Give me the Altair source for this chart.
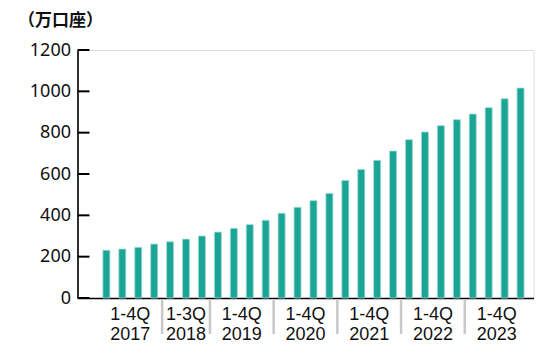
import altair as alt
import pandas as pd

# ---- data ----
unit_label = "（万口座）"
years = ["2017", "2018", "2019", "2020", "2021", "2022", "2023"]
periods = ["1-4Q", "1-3Q", "1-4Q", "1-4Q", "1-4Q", "1-4Q", "1-4Q"]
bars_per_group = [4, 3, 4, 4, 4, 4, 4]
values = [231, 237, 245, 261, 272, 285, 300,
          319, 337, 355, 376,
          410, 439, 471, 506,
          569, 622, 666, 711,
          766, 803, 834, 863,
          890, 921, 964, 1016]
y_ticks = [0, 200, 400, 600, 800, 1000, 1200]

# ---- tables ----
bars = pd.DataFrame({"idx": [i + 0.5 for i in range(len(values))], "v": values})

starts = []
s = 0
for n in bars_per_group:
    starts.append(s)
    s += n
groups = pd.DataFrame({
    "label": [f"{p}\n{y}" for p, y in zip(periods, years)],
    "center": [st + n / 2 for st, n in zip(starts, bars_per_group)],
    "start": starts,
})
seps = groups.iloc[1:][["start"]]
ticks = pd.DataFrame({"v": y_ticks})

W, H = 456, 248
xscale = alt.Scale(domain=[-1, 27], nice=False, zero=False)
yscale = alt.Scale(domain=[0, 1200], nice=False)

TEAL = "#1aa596"

bar_layer = alt.Chart(bars).mark_bar(
    width=7, color=TEAL, stroke="#9fdbd3", strokeWidth=0.8
).encode(
    x=alt.X("idx:Q", scale=xscale,
            axis=alt.Axis(labels=False, ticks=False, grid=False, title=None,
                          domainColor="black", domainWidth=1.6)),
    y=alt.Y("v:Q", scale=yscale,
            axis=alt.Axis(values=y_ticks, format="d", ticks=False, grid=False,
                          domainColor="black", domainWidth=1.6,
                          labelFont="Noto Sans", labelFontSize=18,
                          labelColor="#111", labelPadding=7,
                          title=unit_label, titleAngle=0, titleAlign="left",
                          titleBaseline="middle", titleX=-60, titleY=-30,
                          titleFont="Noto Sans CJK JP", titleFontSize=17,
                          titleFontWeight="bold", titleColor="#111")),
)

tick_layer = alt.Chart(ticks).mark_rule(color="black", strokeWidth=2).encode(
    y=alt.Y("v:Q", scale=yscale),
    x=alt.value(0),
    x2=alt.value(12),
)

sep_layer = alt.Chart(seps).mark_rule(color="#c8c8c8", strokeWidth=2.5).encode(
    x=alt.X("start:Q", scale=xscale),
    y=alt.value(H + 1),
    y2=alt.value(H + 36),
)

label_layer = alt.Chart(groups).mark_text(
    lineBreak="\n", baseline="top", align="center",
    font="Liberation Sans", fontSize=18, lineHeight=20, color="#111",
).encode(
    x=alt.X("center:Q", scale=xscale),
    y=alt.value(H + 8),
    text="label:N",
)

chart = alt.layer(bar_layer, tick_layer, sep_layer, label_layer).properties(
    width=W, height=H,
    autosize=alt.AutoSizeParams(type="none"),
    padding={"left": 77.5, "top": 50, "right": 20, "bottom": 55},
).configure_view(stroke=None).configure(background="white")

chart.save("out.html", embed_options={"renderer": "svg", "actions": False})
